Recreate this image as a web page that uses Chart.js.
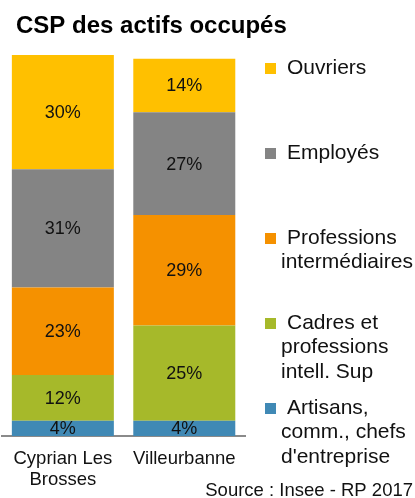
<!DOCTYPE html>
<html>
<head>
<meta charset="utf-8">
<script src="https://cdn.jsdelivr.net/npm/chart.js@4.4.0/dist/chart.umd.min.js"></script>
<style>
  html, body { margin: 0; padding: 0; background: #fff; }
  #wrap { position: relative; width: 415px; height: 498px; }
</style>
</head>
<body>
<div id="wrap"><canvas id="csp" width="415" height="498"></canvas></div>
<script>
// Communes comparées (libellés sur deux lignes si besoin)
const categories = [['Cyprian Les', 'Brosses'], 'Villeurbanne'];

// CSP, du bas de la pile vers le haut
const seriesNames = [
    ['Artisans,', 'comm., chefs', "d'entreprise"],
    ['Cadres et', 'professions', 'intell. Sup'],
    ['Professions', 'intermédiaires'],
    ['Employés'],
    ['Ouvriers']
];
const artisans     = [4, 4];
const cadres       = [12, 25];
const professions  = [23, 29];
const employes     = [31, 27];
const ouvriers     = [30, 14];

const seriesColors = ['#4089b5', '#a6b92a', '#f59100', '#848484', '#ffc000'];

const FONT = '"Liberation Sans", Arial, sans-serif';

const datasets = [artisans, cadres, professions, employes, ouvriers].map((vals, i) => ({
    label: seriesNames[i].join(' '),
    data: vals,
    backgroundColor: seriesColors[i],
    borderWidth: 0,
    barPercentage: 0.84,
    categoryPercentage: 1
}));

// Pourcentages écrits au centre de chaque segment
const segmentLabels = {
    id: 'segmentLabels',
    afterDatasetsDraw(chart) {
        const ctx = chart.ctx;
        ctx.save();
        ctx.font = '18px ' + FONT;
        ctx.fillStyle = '#111';
        ctx.textAlign = 'center';
        ctx.textBaseline = 'middle';
        chart.data.datasets.forEach((ds, di) => {
            chart.getDatasetMeta(di).data.forEach((bar, i) => {
                const v = ds.data[i];
                ctx.fillText(Math.round(v) + '%', bar.x, (bar.y + bar.base) / 2 + 1);
            });
        });
        ctx.restore();
    }
};

// Titre, légende à droite et source
const decorations = {
    id: 'decorations',
    afterDraw(chart) {
        const ctx = chart.ctx;
        ctx.save();
        ctx.fillStyle = '#000';
        ctx.textBaseline = 'alphabetic';
        ctx.textAlign = 'left';
        ctx.font = 'bold 24px ' + FONT;
        ctx.fillText('CSP des actifs occupés', 16, 33);

        // légende : Ouvriers en haut, Artisans en bas
        ctx.font = '21px ' + FONT;
        ctx.textBaseline = 'middle';
        const n = seriesNames.length;
        for (let k = 0; k < n; k++) {
            const si = n - 1 - k;
            const y0 = 68 + k * 85;
            ctx.fillStyle = seriesColors[si];
            ctx.fillRect(265, y0 - 5, 11, 11);
            ctx.fillStyle = '#111';
            seriesNames[si].forEach((line, j) => {
                ctx.fillText(line, j === 0 ? 287 : 281, y0 + j * 24.5);
            });
        }

        ctx.textAlign = 'right';
        ctx.textBaseline = 'alphabetic';
        ctx.font = '18.5px ' + FONT;
        ctx.fillText('Source : Insee - RP 2017', 413, 496);
        ctx.restore();
    }
};

new Chart(document.getElementById('csp'), {
    type: 'bar',
    data: { labels: categories, datasets: datasets },
    options: {
        responsive: false,
        animation: false,
        layout: { padding: { left: 2, right: 170, top: 55, bottom: 0 } },
        plugins: {
            legend: { display: false },
            tooltip: { enabled: false }
        },
        scales: {
            x: {
                stacked: true,
                grid: { display: false, drawTicks: false },
                border: { display: true, color: '#8a8a8a', width: 2 },
                ticks: {
                    color: '#111',
                    font: { family: FONT, size: 18.5, lineHeight: 1.12 },
                    padding: 13,
                    maxRotation: 0,
                    autoSkip: false
                },
                afterFit(scale) { scale.height = 62; }
            },
            y: {
                stacked: true,
                display: false,
                min: 0,
                max: 100
            }
        }
    },
    plugins: [segmentLabels, decorations]
});
</script>
</body>
</html>
